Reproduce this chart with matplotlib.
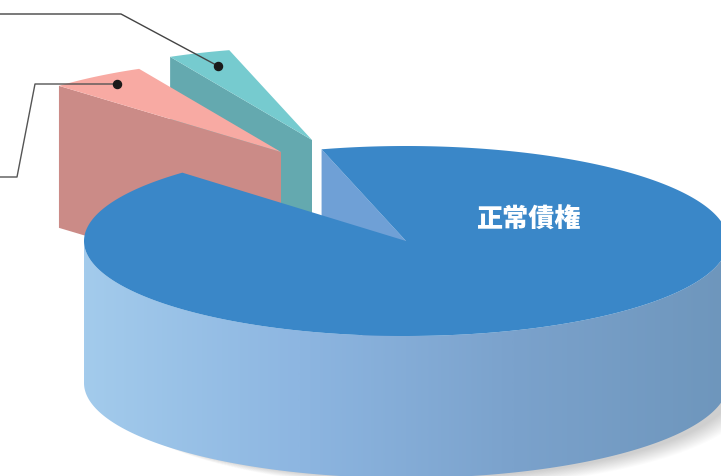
import numpy as np
import matplotlib
matplotlib.use("Agg")
import matplotlib.pyplot as plt
from matplotlib.colors import LinearSegmentedColormap
from matplotlib.patches import Polygon

plt.rcParams['font.family'] = ['Noto Sans CJK JP', 'DejaVu Sans']

# shares of the three slices (%)
labels = ['正常債権', '', '']
shares = [92.0, 3.2, 5.0]
top_colors = ['#3a87c8', '#76cbcf', '#f8aaa3']
side_colors = ['#6fa0d6', '#64a9af', '#cb8b87']

# pie geometry in pixels
cx, cy = 406, 241
rx, ry = 322, 95
depth = 142
start_angle = 105.2
pulled_radius = 0.98
pulled_offset = {1: (-94, -101), 2: (-125, -89)}

wall_colors = ['#a3cbec', '#8db6e1', '#7ba2cc', '#6e96bc']
shadow_steps = 16


def arc(t0, t1, x0=cx, y0=cy, r=1.0, n=200):
    t = np.radians(np.linspace(t0, t1, n))
    return np.column_stack((x0 + r * rx * np.cos(t), y0 - r * ry * np.sin(t)))


fig = plt.figure(figsize=(7.21, 4.76), dpi=100)
ax = fig.add_axes([0, 0, 1, 1])
ax.set_xlim(0, 721)
ax.set_ylim(476, 0)
ax.axis('off')

# slice angles, measured counter-clockwise: teal, pink, then the large one
spans = [s * 3.6 for s in shares]
teal_a = (start_angle, start_angle + spans[1])
pink_a = (teal_a[1], teal_a[1] + spans[2])
main_a = (start_angle + 360 - spans[0], start_angle + 360)

# pulled-out slices, back one first
for i, (a0, a1) in [(1, teal_a), (2, pink_a)]:
    dx, dy = pulled_offset[i]
    ax0, ay0 = cx + dx, cy + dy
    rim = arc(a0, a1, ax0, ay0, pulled_radius)
    p = rim[-1]
    face = [(p[0], p[1]), (ax0, ay0), (ax0, ay0 + depth), (p[0], p[1] + depth)]
    ax.add_patch(Polygon(face, fc=side_colors[i], ec='none', zorder=2))
    top = np.vstack(([ax0, ay0], rim))
    ax.add_patch(Polygon(top, fc=top_colors[i], ec='none', zorder=2))

# soft shadow under the drum, pushed to the lower right
for k in range(shadow_steps, 0, -1):
    low = arc(180, 360, cx + 8 + k * 1.1, cy + depth + k * 0.6)
    ax.add_patch(Polygon(low, fc='black', ec='none', alpha=0.011, zorder=3))

# cut face seen through the notch
p = arc(start_angle, start_angle, n=1)[0]
notch = [(p[0], p[1]), (cx, cy), (cx, cy + depth), (p[0], p[1] + depth)]
ax.add_patch(Polygon(notch, fc=side_colors[0], ec='none', zorder=3))

# drum wall with a left-to-right gradient
upper = arc(180, 360)
lower = arc(360, 180, y0=cy + depth)
wall = Polygon(np.vstack((upper, lower)), fc='none', ec='none', zorder=4)
ax.add_patch(wall)
cmap = LinearSegmentedColormap.from_list('wall', wall_colors)
grad = np.linspace(0, 1, 512).reshape(1, -1)
im = ax.imshow(grad, cmap=cmap, extent=(cx - rx, cx + rx, 476, 0), aspect='auto', zorder=4)
im.set_clip_path(wall)
ax.set_xlim(0, 721)
ax.set_ylim(476, 0)

# top of the main slice
top = np.vstack(([cx, cy], arc(main_a[0], main_a[1], n=600)))
ax.add_patch(Polygon(top, fc=top_colors[0], ec='none', zorder=5))
ax.text(529, 220, labels[0], color='white', fontsize=18.8, fontweight='black',
        ha='center', va='center', zorder=6)

# leader lines going off to the left edge
ax.plot([0, 121, 218], [14, 14, 66], color='#444444', lw=1, zorder=7)
ax.plot([0, 17, 35, 117], [177, 177, 84, 84], color='#555555', lw=1, zorder=7)
ax.plot([218, 117], [66, 84], ls='none', marker='o', ms=5.8, color='#1a1a1a', zorder=8)

fig.savefig('out.png', dpi=100)
